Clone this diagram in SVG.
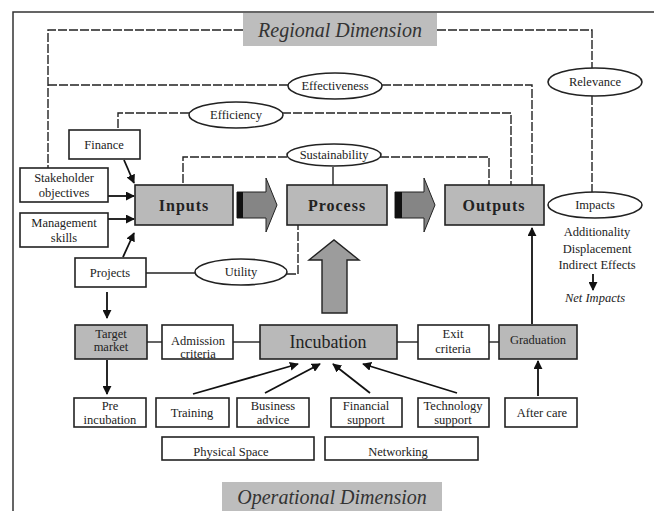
<svg xmlns="http://www.w3.org/2000/svg" width="654" height="511" viewBox="0 0 654 511">
<defs>
<style>
text{font-family:"Liberation Serif","Times New Roman",serif;fill:#222;text-anchor:middle}
.t{font-size:12.5px}
.big{font-size:16px;font-weight:bold;letter-spacing:1px}
.dim{font-size:20px;font-style:italic;fill:#333}
.box{fill:#fff;stroke:#222;stroke-width:1.6}
.gbox{fill:#b9b9b9;stroke:#222;stroke-width:1.6}
.ell{fill:#fff;stroke:#222;stroke-width:1.6}
.dash{fill:none;stroke:#222;stroke-width:1.4;stroke-dasharray:9,2}
.ln{fill:none;stroke:#222;stroke-width:1.4}
.arr{fill:none;stroke:#111;stroke-width:1.8;marker-end:url(#ah)}
</style>
<marker id="ah" viewBox="0 0 10 10" refX="9" refY="5" markerWidth="5" markerHeight="5" orient="auto">
<path d="M0,0 L10,5 L0,10 z" fill="#111"/>
</marker>
</defs>
<rect x="0" y="0" width="654" height="511" fill="#fff"/>
<path d="M13,511 V12 H654" fill="none" stroke="#333" stroke-width="1.5"/>

<g id="connectors">
<path class="dash" d="M243,30 H48 V168"/>
<path class="dash" d="M48,85 H288"/>
<path class="dash" d="M382,85 H532 V185"/>
<path class="dash" d="M437,30 H592 V68"/>
<path class="dash" d="M592,96 V192"/>
<path class="dash" d="M189,113 H118 V130"/>
<path class="dash" d="M282,113 H511 V185"/>
<path class="dash" d="M287,157 H183 V185"/>
<path class="dash" d="M380,157 H489 V185"/>
<path class="ln" d="M333,167 V185"/>
<path class="ln" d="M146,273 H195"/>
<path class="dash" d="M287,274 H298 V225"/>
<path class="ln" d="M147,342 H162"/>
<path class="ln" d="M233,342 H260"/>
<path class="ln" d="M397,342 H418"/>
<path class="ln" d="M489,342 H499"/>
<path class="arr" d="M124,160 L134,183"/>
<path class="arr" d="M108,196 H134"/>
<path class="arr" d="M108,219 H134"/>
<path class="arr" d="M123,257 L134,233"/>
<path class="arr" d="M107,292 V318"/>
<path class="arr" d="M107,360 V394"/>
<path class="arr" d="M532,324 V228"/>
<path class="arr" d="M538,396 V361"/>
<path class="arr" d="M193,394 L298,364"/>
<path class="arr" d="M265,393 L320,364"/>
<path class="arr" d="M370,393 L333,364"/>
<path class="arr" d="M457,393 L363,364"/>
<path class="arr" d="M593,274 V290"/>
</g>

<g id="regional">
<rect x="243" y="13" width="194" height="33" fill="#bdbdbd"/>
<text class="dim" x="340" y="37">Regional Dimension</text>
</g>
<g id="relevance"><ellipse class="ell" cx="595" cy="82" rx="47" ry="14"/><text class="t" x="595" y="86">Relevance</text></g>
<g id="effectiveness"><ellipse class="ell" cx="335" cy="86" rx="47" ry="13"/><text class="t" x="335" y="90">Effectiveness</text></g>
<g id="efficiency"><ellipse class="ell" cx="236" cy="115" rx="47" ry="13"/><text class="t" x="236" y="119">Efficiency</text></g>
<g id="sustainability"><ellipse class="ell" cx="334" cy="155" rx="47" ry="11"/><text class="t" x="334" y="159">Sustainability</text></g>
<g id="finance"><rect class="box" x="69" y="130" width="71" height="29"/><text class="t" x="104" y="149">Finance</text></g>
<g id="stakeholder"><rect class="box" x="20" y="168" width="88" height="34"/><text class="t" x="64" y="182">Stakeholder</text><text class="t" x="64" y="197">objectives</text></g>
<g id="management"><rect class="box" x="20" y="213" width="88" height="34"/><text class="t" x="64" y="227">Management</text><text class="t" x="64" y="242">skills</text></g>
<g id="projects"><rect class="box" x="75" y="258" width="71" height="29"/><text class="t" x="110" y="277">Projects</text></g>
<g id="utility"><ellipse class="ell" cx="241" cy="272" rx="46" ry="13"/><text class="t" x="241" y="276">Utility</text></g>

<g id="inputs"><rect class="gbox" x="135" y="185" width="98" height="40"/><text class="big" x="184" y="211">Inputs</text></g>
<g id="process"><rect class="gbox" x="287" y="185" width="100" height="40"/><text class="big" x="337" y="211">Process</text></g>
<g id="outputs"><rect class="gbox" x="445" y="185" width="99" height="40"/><text class="big" x="494" y="211">Outputs</text></g>

<g id="arrow1">
<path d="M237,192 H266 V178 L277,205 L266,232 V218 H237 Z" fill="#858585" stroke="#222" stroke-width="1"/>
<rect x="237" y="192" width="6" height="26" fill="#111"/>
</g>
<g id="arrow2">
<path d="M395,192 H424 V178 L435,205 L424,232 V218 H395 Z" fill="#858585" stroke="#222" stroke-width="1"/>
<rect x="395" y="192" width="7" height="26" fill="#111"/>
</g>
<g id="uparrow">
<path d="M322,313 V260 H309 L334,240 L359,260 H347 V313 Z" fill="#9c9c9c" stroke="#222" stroke-width="1.4"/>
</g>

<g id="impacts"><ellipse class="ell" cx="595" cy="205" rx="47" ry="13"/><text class="t" x="595" y="209">Impacts</text>
<text class="t" x="597" y="236">Additionality</text>
<text class="t" x="597" y="253">Displacement</text>
<text class="t" x="597" y="269">Indirect Effects</text>
<text class="t" x="595" y="302" font-style="italic">Net Impacts</text></g>

<g id="target"><rect class="gbox" x="75" y="325" width="72" height="34"/><text class="t" x="111" y="338">Target</text><text class="t" x="111" y="351">market</text></g>
<g id="admission"><rect class="box" x="162" y="325" width="71" height="34"/><text class="t" x="198" y="345">Admission</text><text class="t" x="198" y="358">criteria</text></g>
<g id="incubation"><rect class="gbox" x="260" y="325" width="137" height="34"/><text x="328" y="348" font-size="18">Incubation</text></g>
<g id="exit"><rect class="box" x="418" y="325" width="71" height="34"/><text class="t" x="453" y="338">Exit</text><text class="t" x="453" y="353">criteria</text></g>
<g id="graduation"><rect class="gbox" x="499" y="325" width="78" height="34"/><text class="t" x="538" y="344">Graduation</text></g>

<g id="preincubation"><rect class="box" x="74" y="398" width="72" height="29"/><text class="t" x="110" y="410">Pre</text><text class="t" x="110" y="424">incubation</text></g>
<g id="training"><rect class="box" x="156" y="398" width="73" height="29"/><text class="t" x="192" y="417">Training</text></g>
<g id="business"><rect class="box" x="237" y="398" width="72" height="29"/><text class="t" x="273" y="410">Business</text><text class="t" x="273" y="424">advice</text></g>
<g id="financial"><rect class="box" x="331" y="398" width="71" height="29"/><text class="t" x="366" y="410">Financial</text><text class="t" x="366" y="424">support</text></g>
<g id="technology"><rect class="box" x="418" y="398" width="71" height="29"/><text class="t" x="453" y="410">Technology</text><text class="t" x="453" y="424">support</text></g>
<g id="aftercare"><rect class="box" x="505" y="398" width="72" height="29"/><text class="t" x="542" y="417">After care</text></g>
<g id="physical"><rect class="box" x="162" y="437" width="152" height="23"/><text class="t" x="231" y="456">Physical Space</text></g>
<g id="networking"><rect class="box" x="325" y="437" width="153" height="23"/><text class="t" x="398" y="456">Networking</text></g>

<g id="operational">
<rect x="222" y="482" width="220" height="29" fill="#bdbdbd"/>
<text class="dim" x="332" y="504">Operational Dimension</text>
</g>
</svg>
